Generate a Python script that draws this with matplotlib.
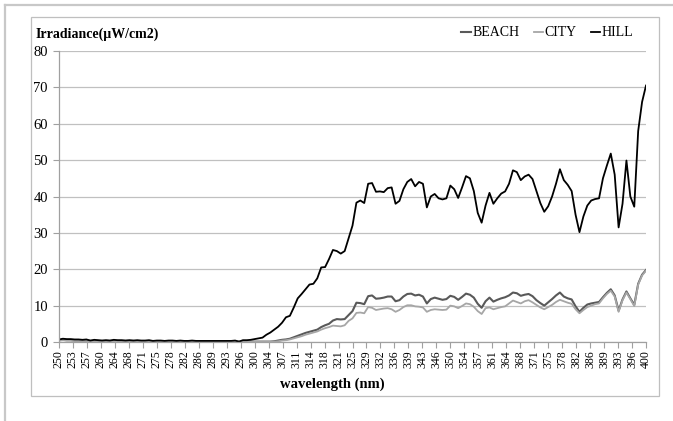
import numpy as np
import matplotlib.pyplot as plt
from matplotlib.lines import Line2D
from matplotlib.patches import Rectangle

plt.rcParams['font.family'] = ['Liberation Serif', 'DejaVu Serif']

wavelength = np.arange(250, 401)

hill = [
    0.7, 0.9, 0.8, 0.8, 0.7, 0.7, 0.6, 0.7, 0.4, 0.6,
    0.5, 0.4, 0.5, 0.4, 0.6, 0.5, 0.5, 0.4, 0.5, 0.4,
    0.5, 0.4, 0.4, 0.5, 0.3, 0.4, 0.4, 0.3, 0.4, 0.4,
    0.3, 0.4, 0.3, 0.3, 0.4, 0.3, 0.3, 0.3, 0.3, 0.3,
    0.3, 0.3, 0.3, 0.3, 0.3, 0.4, 0.1, 0.5, 0.5, 0.6,
    0.8, 1.0, 1.2, 2.0, 2.6, 3.4, 4.2, 5.3, 6.8, 7.2,
    9.5, 12.0, 13.2, 14.5, 15.8, 16.0, 17.5, 20.5, 20.6, 22.8,
    25.3, 25.0, 24.3, 25.0, 28.5, 32.0, 38.3, 38.9, 38.2, 43.5,
    43.7, 41.3, 41.4, 41.2, 42.3, 42.5, 38.0, 38.8, 42.0, 44.0,
    44.8, 42.8, 44.0, 43.5, 37.0, 40.0, 40.7, 39.5, 39.2, 39.5,
    43.0, 42.0, 39.6, 42.5, 45.6, 45.0, 41.5, 35.5, 32.8, 37.5,
    41.0, 38.0, 39.5, 40.8, 41.4, 43.5, 47.2, 46.7, 44.5, 45.5,
    46.0, 44.8, 41.5, 38.2, 35.8, 37.3, 40.0, 43.5, 47.5, 44.5,
    43.2, 41.5, 35.0, 30.2, 34.5, 37.5, 38.9, 39.3, 39.5, 45.0,
    48.5, 51.8, 46.0, 31.5, 38.0, 49.9, 40.0, 37.2, 58.0, 66.0,
    70.5,
]

beach = [
    0.5, 0.6, 0.5, 0.5, 0.4, 0.4, 0.4, 0.4, 0.3, 0.3,
    0.3, 0.3, 0.3, 0.3, 0.3, 0.3, 0.3, 0.3, 0.3, 0.3,
    0.2, 0.2, 0.2, 0.2, 0.2, 0.2, 0.2, 0.2, 0.2, 0.2,
    0.2, 0.2, 0.2, 0.2, 0.2, 0.2, 0.2, 0.2, 0.2, 0.2,
    0.1, 0.1, 0.1, 0.1, 0.1, 0.1, 0.1, 0.1, 0.1, 0.1,
    0.1, 0.1, 0.1, 0.1, 0.1, 0.2, 0.4, 0.6, 0.7, 0.9,
    1.3, 1.7, 2.1, 2.5, 2.8, 3.1, 3.4, 4.1, 4.6, 5.0,
    5.9, 6.3, 6.2, 6.3, 7.4, 8.5, 10.8, 10.7, 10.4, 12.6,
    12.8, 11.9, 12.0, 12.2, 12.5, 12.5, 11.2, 11.5, 12.5, 13.2,
    13.3, 12.8, 13.0, 12.5, 10.6, 11.8, 12.2, 11.9, 11.6, 11.8,
    12.7, 12.4, 11.6, 12.4, 13.3, 13.0, 12.2, 10.5, 9.4, 11.2,
    12.2, 11.1, 11.6, 12.0, 12.3, 12.8, 13.6, 13.4, 12.7, 13.0,
    13.2, 12.6, 11.5, 10.7, 10.0, 10.9, 11.8, 12.8, 13.6, 12.5,
    12.0, 11.7, 9.8, 8.3, 9.4, 10.3, 10.6, 10.8, 11.0, 12.3,
    13.5, 14.5, 12.8, 8.6, 11.7, 13.9, 12.0, 10.2, 16.0, 18.5,
    19.8,
]

city = [
    0.4, 0.5, 0.4, 0.4, 0.3, 0.3, 0.3, 0.3, 0.2, 0.2,
    0.2, 0.2, 0.2, 0.2, 0.2, 0.2, 0.2, 0.2, 0.2, 0.2,
    0.1, 0.1, 0.1, 0.1, 0.1, 0.1, 0.1, 0.1, 0.1, 0.1,
    0.1, 0.1, 0.1, 0.1, 0.1, 0.1, 0.1, 0.1, 0.1, 0.1,
    0.1, 0.1, 0.1, 0.1, 0.1, 0.1, 0.1, 0.1, 0.1, 0.1,
    0.1, 0.1, 0.1, 0.1, 0.1, 0.1, 0.2, 0.4, 0.5, 0.7,
    1.0, 1.3, 1.6, 2.0, 2.3, 2.6, 2.9, 3.4, 3.8, 4.1,
    4.5, 4.4, 4.3, 4.6, 5.8, 6.5, 8.0, 8.1, 7.9, 9.6,
    9.4, 8.8, 9.0, 9.2, 9.3, 9.0, 8.3, 8.8, 9.6, 10.1,
    10.1, 9.8, 9.7, 9.5, 8.3, 8.8, 9.0, 8.9, 8.8, 8.9,
    10.0, 9.8, 9.3, 9.9, 10.6, 10.4, 9.7, 8.5, 7.7, 9.3,
    9.5, 9.0, 9.3, 9.6, 9.8, 10.6, 11.4, 11.0, 10.6, 11.2,
    11.5, 10.9, 10.2, 9.5, 9.0, 9.6, 10.2, 11.0, 11.6, 11.2,
    10.8, 10.5, 9.0, 7.9, 8.8, 9.6, 10.0, 10.4, 10.6, 12.0,
    13.2, 14.1, 12.5, 8.3, 11.5, 13.6, 11.8, 9.9, 15.8, 18.3,
    19.6,
]

tick_labels = ['250', '253', '257', '260', '264', '268', '271', '275', '278',
               '282', '286', '289', '293', '296', '300', '304', '307', '311',
               '314', '318', '321', '325', '329', '332', '336', '339', '343',
               '346', '350', '354', '357', '361', '364', '368', '371', '375',
               '378', '382', '386', '389', '393', '396', '400']

W, H = 673, 421
fig = plt.figure(figsize=(W / 100, H / 100), dpi=100)
ax = fig.add_axes([59 / W, 1 - 342 / H, (646 - 59) / W, (342 - 51) / H])

ax.plot(wavelength, beach, color='#595959', lw=1.5, label='BEACH')
ax.plot(wavelength, city, color='#a6a6a6', lw=1.3, label='CITY')
ax.plot(wavelength, hill, color='#000000', lw=1.3, label='HILL')

ax.set_xlim(250, 400)
ax.set_ylim(0, 80)
ax.set_yticks(np.arange(0, 81, 10))
ax.set_xticks(np.linspace(250, 400, len(tick_labels)))
ax.set_xticklabels(tick_labels, rotation=90, fontsize=8.5)
ax.tick_params(axis='y', labelsize=10.5, length=4, color='#a0a0a0', pad=4)
ax.tick_params(axis='x', length=4, color='#a0a0a0', pad=2)
ax.grid(axis='y', color='#c0c0c0', lw=0.9)
ax.set_axisbelow(True)
for s in ['top', 'right']:
    ax.spines[s].set_visible(False)
for s in ['left', 'bottom']:
    ax.spines[s].set_color('#a0a0a0')
    ax.spines[s].set_linewidth(0.9)

fig.text(36 / W, 1 - 34 / H, 'Irradiance(µW/cm2)', fontsize=10,
         fontweight='bold', ha='left', va='center')
fig.text(332 / W, 1 - 384 / H, 'wavelength (nm)', fontsize=10.5,
         fontweight='bold', ha='center', va='center')

leg = fig.legend(loc='center right', bbox_to_anchor=(639 / W, 1 - 33 / H),
                 ncol=3, frameon=False, fontsize=10, handlelength=0.7,
                 handletextpad=0.1, columnspacing=1.0, borderaxespad=0)

# outer frame and chart border
fig.add_artist(Line2D([5 / W, 1], [1 - 5 / H, 1 - 5 / H], color='#c8c8c8', lw=1.6))
fig.add_artist(Line2D([5 / W, 5 / W], [0, 1 - 5 / H], color='#c8c8c8', lw=1.6))
fig.add_artist(Rectangle((31 / W, 1 - 396 / H), (659 - 31) / W, (396 - 17) / H,
                         fill=False, edgecolor='#bfbfbf', lw=0.9))

fig.savefig('out.png', dpi=100)
